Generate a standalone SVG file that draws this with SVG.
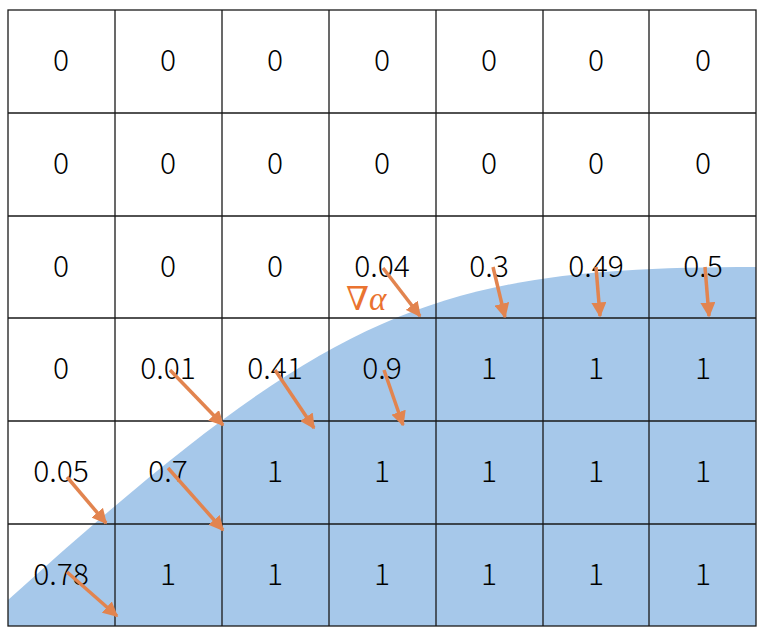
<svg xmlns="http://www.w3.org/2000/svg" width="763" height="635" viewBox="0 0 763 635">
<style>
.v{font-family:"Noto Sans CJK JP","Noto Sans",sans-serif;font-size:30px;font-weight:300;fill:#000;text-anchor:middle}
.g{stroke:#1a1a1a;stroke-width:1.3;fill:none}
.a{stroke:#e2844f;stroke-width:3.5;fill:none;marker-end:url(#ah)}
</style>
<defs>
<marker id="ah" viewBox="0 0 10 10" refX="9" refY="5" markerWidth="4.3" markerHeight="4.3" orient="auto" markerUnits="strokeWidth">
<path d="M0,0 L10,5 L0,10 Z" fill="#e2844f"/>
</marker>
</defs>
<rect width="763" height="635" fill="#fff"/>
<path id="region" d="M8,600 C332,308 432,267 756,267 L756,626 L8,626 Z" fill="#a6c8ea"/>
<g id="grid" class="g">
<rect x="8" y="10" width="748" height="616"/>
<path d="M115,10V626M222,10V626M329,10V626M436,10V626M543,10V626M649,10V626"/>
<path d="M8,113H756M8,216H756M8,318H756M8,421H756M8,524H756"/>
</g>
<g id="values" class="v">
<text x="61" y="71">0</text><text x="168" y="71">0</text><text x="275" y="71">0</text><text x="382" y="71">0</text><text x="489" y="71">0</text><text x="596" y="71">0</text><text x="703" y="71">0</text>
<text x="61" y="174">0</text><text x="168" y="174">0</text><text x="275" y="174">0</text><text x="382" y="174">0</text><text x="489" y="174">0</text><text x="596" y="174">0</text><text x="703" y="174">0</text>
<text x="61" y="277">0</text><text x="168" y="277">0</text><text x="275" y="277">0</text><text x="382" y="277">0.04</text><text x="489" y="277">0.3</text><text x="596" y="277">0.49</text><text x="703" y="277">0.5</text>
<text x="61" y="379">0</text><text x="168" y="379">0.01</text><text x="275" y="379">0.41</text><text x="382" y="379">0.9</text><text x="489" y="379">1</text><text x="596" y="379">1</text><text x="703" y="379">1</text>
<text x="61" y="482">0.05</text><text x="168" y="482">0.7</text><text x="275" y="482">1</text><text x="382" y="482">1</text><text x="489" y="482">1</text><text x="596" y="482">1</text><text x="703" y="482">1</text>
<text x="61" y="585">0.78</text><text x="168" y="585">1</text><text x="275" y="585">1</text><text x="382" y="585">1</text><text x="489" y="585">1</text><text x="596" y="585">1</text><text x="703" y="585">1</text>
</g>
<g id="connectors">
<path class="a" d="M383,268 L420,316"/>
<path class="a" d="M493,267 L505,317"/>
<path class="a" d="M596,267 L600,316"/>
<path class="a" d="M705,267 L709,316"/>
<path class="a" d="M170,370 L223,425"/>
<path class="a" d="M275,370 L314,428"/>
<path class="a" d="M384,370 L403,425"/>
<path class="a" d="M67,477 L106,523"/>
<path class="a" d="M168,468 L223,530"/>
<path class="a" d="M67,572 L117,616"/>
</g>
<text id="label" x="346" y="310" font-family="'Liberation Serif','DejaVu Serif',serif" font-size="33" fill="#ea7330"><tspan>∇</tspan><tspan font-style="italic">α</tspan></text>
</svg>
